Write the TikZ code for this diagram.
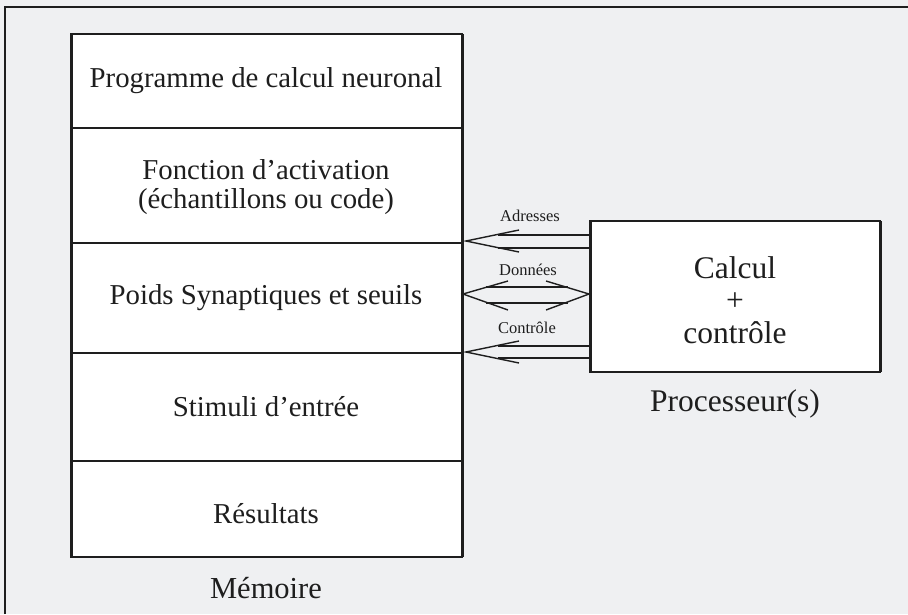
\documentclass[tikz,border=0pt]{standalone}
\usepackage{fontspec}
\setmainfont{Liberation Serif}
\definecolor{bg}{HTML}{EFF0F2}
\definecolor{ink}{HTML}{1E1E1E}
\begin{document}
\begin{tikzpicture}[x=1pt,y=-1pt,
  big/.style={font=\fontsize{28.8}{29.5}\selectfont, text=ink, align=center, inner sep=0pt},
  label/.style={font=\fontsize{30.5}{32.5}\selectfont, text=ink, align=center, inner sep=0pt},
  plab/.style={font=\fontsize{31.5}{32.5}\selectfont, text=ink, align=center, inner sep=0pt},
  small/.style={font=\fontsize{16.5}{18}\selectfont, text=ink, inner sep=0pt},
  box/.style={draw=ink, line width=1.5pt, fill=white},
  side/.style={draw=ink, line width=3pt},
  sep/.style={draw=ink, line width=1.2pt},
  arr/.style={draw=ink, line width=1.4pt}]
\fill[bg] (0,0) rectangle (908,614);
\useasboundingbox (0,0) rectangle (908,614);
\draw[ink, line width=2pt] (5,614) -- (5,7) -- (908,7);
% memory
\coordinate (m1) at (71,34);
\coordinate (m2) at (462,557);
\draw[box] (m1) rectangle (m2);
\draw[side] (71,34) -- (71,557);
\draw[side] (462,34) -- (462,557);
\draw[sep] (71,128) -- (462,128);
\draw[sep] (71,243) -- (462,243);
\draw[sep] (71,353) -- (462,353);
\draw[sep] (71,461) -- (462,461);
\node[big] (prog) at (266,81) {Programme de calcul neuronal};
\node[big] (fonc) at (266,187) {Fonction d’activation\\(échantillons ou code)};
\node[big] (poids) at (266,298) {Poids Synaptiques et seuils};
\node[big] (stim) at (266,407) {Stimuli d’entrée};
\node[big] (res) at (266,514) {Résultats};
\node[label] (mem) at (266,588) {Mémoire};
% processor
\draw[box] (590,221) rectangle (880,372);
\draw[side] (590,221) -- (590,372);
\draw[side] (880,221) -- (880,372);
\node[plab] (calc) at (735,300) {Calcul\\+\\contrôle};
\node[plab] (proc) at (735,404) {Processeur(s)};
% arrows
\node[small] (adr) at (530,216) {Adresses};
\node[small] (don) at (528,270) {Données};
\node[small] (ctl) at (527,328) {Contrôle};
\draw[arr] (519,230) -- (466,241) -- (519,252);
\draw[arr] (498,235) -- (590,235);
\draw[arr] (498,248) -- (590,248);
\draw[arr] (508,281) -- (463,294) -- (508,310);
\draw[arr] (546,281) -- (589,294) -- (546,310);
\draw[arr] (486,287) -- (568,287);
\draw[arr] (486,303) -- (568,303);
\draw[arr] (519,341) -- (466,352) -- (519,363);
\draw[arr] (498,346) -- (590,346);
\draw[arr] (498,358) -- (590,358);
\end{tikzpicture}
\end{document}
